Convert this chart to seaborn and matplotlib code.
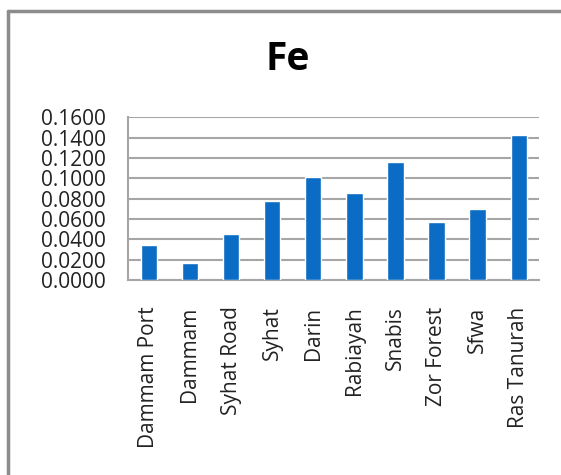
import matplotlib
matplotlib.use("Agg")
import matplotlib.pyplot as plt
import seaborn as sns
import pandas as pd
from matplotlib.lines import Line2D

sites = ["Dammam Port", "Dammam", "Syhat Road", "Syhat", "Darin",
         "Rabiayah", "Snabis", "Zor Forest", "Sfwa", "Ras Tanurah"]
fe_values = [0.0341, 0.0164, 0.0452, 0.0777, 0.1013,
             0.0859, 0.1158, 0.0567, 0.0701, 0.1423]
y_ticks = [0.0, 0.02, 0.04, 0.06, 0.08, 0.10, 0.12, 0.14, 0.16]
title = "Fe"

df = pd.DataFrame({"site": sites, "Fe": fe_values})

sns.set_theme(style="white")
plt.rcParams["font.family"] = ["Open Sans", "DejaVu Sans"]

W, H = 561, 475
fig = plt.figure(figsize=(W / 100, H / 100), dpi=100)
ax = fig.add_axes([128.3 / W, 1 - 280 / H, (539.3 - 128.3) / W, (280 - 117.3) / H])

sns.barplot(data=df, x="site", y="Fe", color="#0A6CC4", saturation=1,
            width=0.40, ax=ax, zorder=3)

ax.set_ylim(0, 0.16)
ax.set_xlim(-0.5, len(sites) - 0.5)
ax.set_yticks(y_ticks)
ax.set_yticklabels([f"{v:.4f}" for v in y_ticks], fontsize=15, color="#222222")
ax.set_xticks(range(len(sites)))
ax.set_xticklabels(sites, rotation=90, fontsize=15, color="#222222")
ax.tick_params(axis="y", length=0, pad=16)
ax.tick_params(axis="x", length=0, pad=19)
ax.set_xlabel("")
ax.set_ylabel("")

ax.yaxis.grid(True, color="#A6A6A6", linewidth=1.5, zorder=0)
ax.set_axisbelow(True)
for side in ["top", "right"]:
    ax.spines[side].set_visible(False)
for side in ["left", "bottom"]:
    ax.spines[side].set_color("#A6A6A6")
    ax.spines[side].set_linewidth(1.5)

fig.text(288 / W, 1 - 59 / H, title, ha="center", va="center",
         fontsize=28, fontweight="bold", color="#000000")

# chart-area frame (top and left edges)
fig.add_artist(Line2D([7.5 / W, 1.0], [1 - 11 / H, 1 - 11 / H],
                      transform=fig.transFigure, color="#8C8C8C", linewidth=2.5))
fig.add_artist(Line2D([7.5 / W, 7.5 / W], [1 - 11 / H, 0.0],
                      transform=fig.transFigure, color="#8C8C8C", linewidth=2.5))

fig.savefig("out.png", dpi=100)
